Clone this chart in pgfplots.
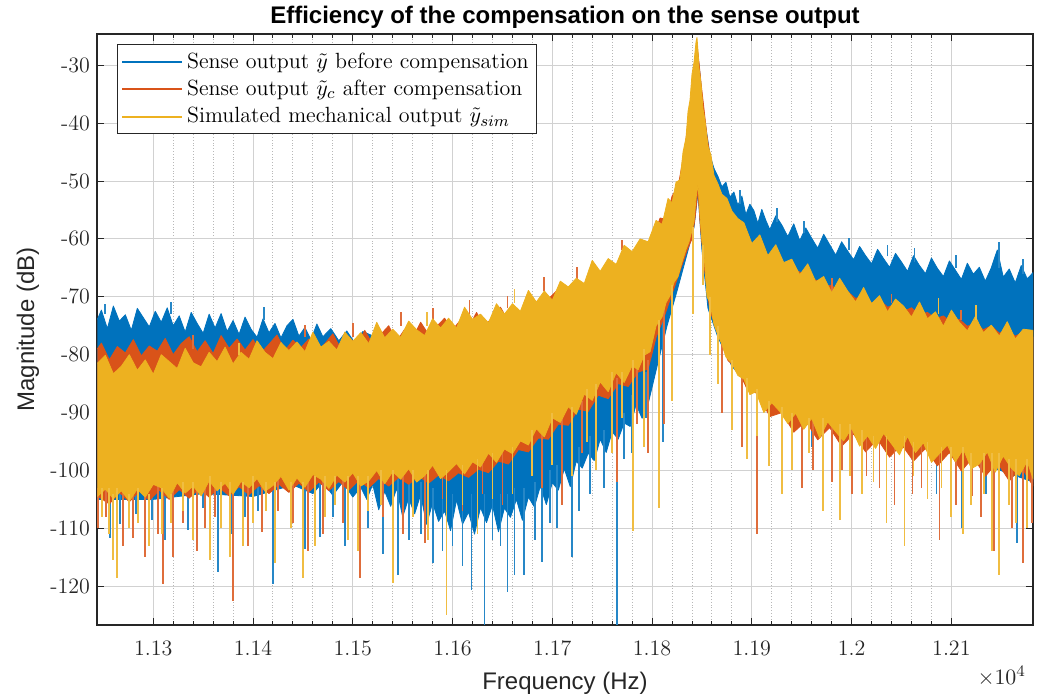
\documentclass[border=0pt]{standalone}
\usepackage{fontspec}
\usepackage{pgfplots}
\pgfplotsset{compat=1.18}
\newfontfamily\arialfont{Liberation Sans}
\definecolor{mblue}{RGB}{0,114,189}
\definecolor{morange}{RGB}{217,83,25}
\definecolor{myellow}{RGB}{237,177,32}
\definecolor{axgray}{RGB}{38,38,38}
\begin{document}
\begin{tikzpicture}
\path[use as bounding box] (-48.5pt,-37.5pt) rectangle (473.5pt,312.5pt);
\begin{axis}[
 scale only axis, width=468pt, height=295.5pt,
 at={(0pt,0pt)}, anchor=south west,
 clip mode=individual,
 xmin=11243.6, xmax=12181.8, ymin=-126.7, ymax=-24.6,
 scaled x ticks=false,
 xtick={11300,11400,11500,11600,11700,11800,11900,12000,12100},
 xticklabels={1.13,1.14,1.15,1.16,1.17,1.18,1.19,1.2,1.21},
 ytick={-120,-110,-100,-90,-80,-70,-60,-50,-40,-30},
 yticklabels={-120,-110,-100,-90,-80,-70,-60,-50,-40,-30},
 minor x tick num=4,
 xmajorgrids, ymajorgrids, xminorgrids,
 major grid style={black!18, line width=0.5pt},
 minor grid style={black!28, densely dotted, line width=0.5pt},
 tick align=inside,
 major tick length=3.5pt, minor tick length=2pt,
 tick style={axgray, line width=0.5pt},
 axis line style={axgray, line width=0.6pt},
 ticklabel style={font=\fontsize{11}{13}\selectfont, text=axgray},
 xticklabel style={yshift=-4.3pt},
 xlabel={Frequency (Hz)}, ylabel={Magnitude (dB)},
 label style={font=\arialfont\fontsize{12}{14}\selectfont, text=axgray},
 xlabel style={at={(axis description cs:0.5,0)}, anchor=center, yshift=-29pt},
 ylabel style={at={(axis description cs:0,0.5)}, anchor=center, yshift=34.5pt},
 legend style={at={(rel axis cs:0.0214,0.983)}, anchor=north west, font=\fontsize{11}{13}\selectfont, draw=axgray, line width=0.5pt, inner xsep=2pt, inner ysep=2pt, row sep=0.5pt, fill=white},
 legend cell align=left,
 legend image code/.code={\draw[#1, line width=0.8pt] (0pt,0pt) -- (30pt,0pt);},
]
\addlegendimage{mblue}
\addlegendentry{Sense output $\tilde{y}$ before compensation}
\addlegendimage{morange}
\addlegendentry{Sense output $\tilde{y}_c$ after compensation}
\addlegendimage{myellow}
\addlegendentry{Simulated mechanical output $\tilde{y}_{sim}$}

% ---------- blue: sense output before compensation ----------
\addplot[forget plot, draw=mblue, fill=mblue, line width=0.4pt, line join=round, mark=none] coordinates {
(11244,-73.9)(11248,-72.3)(11254,-75.5)(11260,-71.6)(11266,-74.2)(11272,-73.1)(11278,-75.8)(11284,-72.0)
(11290,-73.6)(11296,-75.2)(11302,-72.5)(11308,-74.4)(11314,-71.9)(11320,-75.0)(11326,-73.3)(11332,-76.1)
(11338,-72.7)(11344,-74.6)(11350,-76.3)(11356,-73.0)(11362,-75.4)(11368,-72.9)(11374,-76.0)(11380,-74.1)
(11386,-76.5)(11392,-73.5)(11398,-75.6)(11404,-77.0)(11410,-73.8)(11416,-76.2)(11422,-74.6)(11428,-77.1)
(11434,-75.0)(11440,-73.9)(11446,-76.8)(11452,-75.3)(11458,-77.4)(11464,-74.7)(11470,-76.9)(11478,-75.5)
(11486,-77.6)(11494,-75.9)(11502,-78.0)(11510,-76.0)(11530,-77.5)(11560,-77.0)(11600,-76.0)(11650,-74.0)
(11700,-71.0)(11740,-68.0)(11780,-63.5)(11800,-61.0)(11815,-56.5)(11825,-52.5)(11832,-47.0)(11837,-40.5)
(11841,-32.5)(11845,-27.0)(11848,-31.5)(11851,-37.5)(11855,-42.0)(11858,-45.5)(11862,-47.8)(11866,-49.2)
(11870,-51.0)(11874,-50.2)(11878,-52.8)(11882,-51.9)(11886,-54.2)(11890,-52.6)(11894,-55.8)(11898,-54.0)
(11902,-55.1)(11906,-57.3)(11910,-54.9)(11914,-56.8)(11918,-58.4)(11924,-56.0)(11930,-57.6)(11936,-59.6)
(11942,-57.4)(11948,-60.3)(11954,-58.1)(11960,-59.9)(11966,-61.6)(11972,-59.2)(11978,-61.0)(11984,-62.8)
(11990,-60.5)(11996,-62.1)(12002,-63.6)(12008,-61.3)(12014,-62.9)(12020,-64.3)(12026,-61.8)(12032,-63.4)
(12038,-64.9)(12044,-62.5)(12050,-64.0)(12056,-65.6)(12062,-62.9)(12068,-64.6)(12074,-66.0)(12080,-63.3)
(12086,-65.1)(12092,-66.5)(12098,-63.8)(12104,-65.4)(12110,-67.0)(12116,-64.2)(12122,-66.1)(12128,-64.9)
(12134,-67.3)(12140,-65.0)(12146,-61.9)(12152,-66.6)(12158,-65.2)(12164,-67.6)(12170,-64.6)(12176,-66.9)
(12182,-65.8)
(12182,-102.0)(12100,-97.0)(12000,-93.5)(11930,-90.0)(11900,-86.0)(11880,-82.0)(11866,-77.0)(11856,-72.0)
(11850,-62.0)(11846,-52.0)(11842,-58.0)(11836,-62.0)(11825,-69.0)(11815,-75.0)(11805,-82.0)(11796,-88.5)
(11790,-91.0)(11784,-88.6)(11778,-92.4)(11772,-91.8)(11766,-94.6)(11760,-93.3)(11754,-96.9)(11748,-94.6)
(11742,-98.3)(11736,-97.0)(11730,-99.6)(11724,-98.4)(11718,-102.8)(11712,-99.7)(11706,-103.4)(11700,-102.1)
(11694,-105.9)(11688,-102.7)(11682,-106.3)(11676,-104.6)(11670,-108.6)(11664,-105.0)(11658,-108.1)(11652,-106.5)
(11646,-110.6)(11640,-106.0)(11634,-109.0)(11628,-106.4)(11622,-111.0)(11616,-107.2)(11610,-109.3)(11604,-105.1)
(11598,-110.4)(11592,-107.0)(11586,-108.8)(11580,-105.6)(11574,-109.3)(11568,-104.2)(11562,-107.5)(11556,-104.8)
(11550,-108.0)(11544,-103.1)(11538,-106.2)(11532,-103.6)(11526,-106.8)(11520,-102.4)(11514,-105.0)(11508,-102.9)
(11500,-104.6)(11490,-102.0)(11480,-104.3)(11470,-102.0)(11460,-104.0)(11440,-102.5)(11400,-104.5)(11350,-104.0)
(11300,-105.0)(11244,-105.0)
};
\addplot[forget plot, mblue!85, line width=0.9pt, mark=none, unbounded coords=jump] coordinates {
(11257,-102)(11257,-111.6)(11257,nan) (11267,-102)(11267,-109.3)(11267,nan) (11299,-102)(11299,-108.5)(11299,nan)
(11335,-101)(11335,-110.3)(11335,nan) (11365,-101)(11365,-117.6)(11365,nan) (11392,-101)(11392,-108)(11392,nan)
(11420,-101)(11420,-119.6)(11420,nan) (11439,-100)(11439,-109)(11439,nan) (11467,-100)(11467,-111.5)(11467,nan)
(11492,-100)(11492,-113)(11492,nan) (11530,-100)(11530,-114.5)(11530,nan) (11556,-102)(11556,-112)(11556,nan)
(11580,-103)(11580,-116)(11580,nan) (11600,-104)(11600,-113)(11600,nan) (11619,-104)(11619,-120.7)(11619,nan)
(11632,-104)(11632,-127)(11632,nan) (11648,-104)(11648,-113)(11648,nan) (11662,-103)(11662,-118)(11662,nan)
(11672,-103)(11672,-118)(11672,nan) (11690,-101)(11690,-115.8)(11690,nan) (11705,-99)(11705,-110)(11705,nan)
(11720,-96)(11720,-115)(11720,nan) (11738,-94)(11738,-104)(11738,nan) (11765,-89)(11765,-127)(11765,nan)
(11780,-87)(11780,-97)(11780,nan) (11811,-73)(11811,-95)(11811,nan) (11794,-83)(11794,-91)(11794,nan)
(11960,-88)(11960,-96)(11960,nan) (12085,-94)(12085,-104)(12085,nan) (12111,-95)(12111,-110)(12111,nan)
(12135,-96)(12135,-104)(12135,nan) (12166,-97)(12166,-112.6)(12166,nan)
(11283,-101)(11283,-107.5)(11283,nan) (11312,-101)(11312,-112)(11312,nan) (11350,-101)(11350,-106.5)(11350,nan)
(11378,-101)(11378,-111)(11378,nan) (11405,-101)(11405,-107)(11405,nan) (11452,-100)(11452,-113.5)(11452,nan)
(11480,-100)(11480,-108)(11480,nan) (11515,-100)(11515,-110)(11515,nan) (11545,-101)(11545,-118)(11545,nan)
(11568,-102)(11568,-111)(11568,nan) (11590,-103)(11590,-114)(11590,nan) (11610,-104)(11610,-116.5)(11610,nan)
(11640,-104)(11640,-112)(11640,nan) (11655,-104)(11655,-121)(11655,nan) (11683,-102)(11683,-112)(11683,nan)
(11698,-100)(11698,-109)(11698,nan) (11727,-96)(11727,-107)(11727,nan) (11752,-93)(11752,-103)(11752,nan)
(11772,-90)(11772,-98)(11772,nan)
(11252,-73)(11252,-71.2)(11252,nan) (11318,-73)(11318,-70.9)(11318,nan) (11411,-74)(11411,-71.8)(11411,nan)
(11925,-57)(11925,-54.6)(11925,nan) (11997,-62)(11997,-59.8)(11997,nan) (12063,-64)(12063,-61.5)(12063,nan)
(12148,-65)(12148,-60.6)(12148,nan) (11888,-54)(11888,-51.6)(11888,nan) (11952,-59)(11952,-56.9)(11952,nan)
(12036,-63)(12036,-61.0)(12036,nan) (12105,-65)(12105,-62.8)(12105,nan) (12172,-66)(12172,-63.5)(12172,nan)
};

% ---------- orange: sense output after compensation ----------
\addplot[forget plot, draw=morange, fill=morange, line width=0.4pt, line join=round, mark=none] coordinates {
(11244,-79.0)(11248,-78.0)(11256,-80.9)(11264,-78.6)(11272,-79.7)(11280,-77.4)(11288,-80.2)(11296,-78.5)
(11304,-79.4)(11312,-77.2)(11320,-80.0)(11328,-78.1)(11336,-76.9)(11344,-79.5)(11352,-77.6)(11360,-79.8)
(11368,-76.7)(11376,-78.9)(11384,-77.3)(11392,-79.2)(11400,-77.4)(11408,-79.7)(11416,-78.2)(11424,-76.6)
(11432,-79.3)(11440,-77.5)(11448,-78.8)(11456,-77.3)(11464,-79.7)(11472,-78.1)(11480,-76.4)(11488,-79.0)
(11496,-76.9)(11504,-78.5)(11512,-75.8)(11520,-78.2)(11528,-76.5)(11536,-75.0)(11544,-77.7)(11552,-75.6)
(11560,-77.1)(11568,-74.4)(11576,-76.5)(11584,-75.1)(11592,-73.7)(11600,-75.7)(11608,-74.0)(11616,-75.4)
(11624,-72.7)(11632,-75.1)(11640,-73.5)(11648,-71.8)(11656,-74.2)(11664,-72.4)(11672,-73.6)(11680,-70.1)
(11688,-72.3)(11696,-70.4)(11704,-69.0)(11712,-70.9)(11720,-68.5)(11728,-69.7)(11736,-66.9)(11744,-68.4)
(11752,-66.0)(11760,-67.1)(11768,-64.3)(11776,-65.5)(11784,-62.7)(11792,-63.6)(11800,-60.2)(11808,-56.4)
(11814,-56.6)(11820,-52.6)(11826,-51.0)(11830,-47.2)(11833,-44.0)(11836,-40.0)(11839,-35.5)(11841,-31.5)
(11843,-29.0)(11845,-26.3)(11847,-29.5)(11849,-33.0)(11852,-37.5)(11855,-42.2)(11858,-45.6)(11862,-49.3)
(11866,-51.6)(11872,-53.4)(11878,-55.6)(11884,-57.5)(11890,-58.8)(11896,-60.0)(11902,-61.0)(11908,-62.1)
(11916,-62.7)(11924,-63.8)(11932,-64.3)(11940,-65.5)(11948,-65.7)(11956,-66.9)(11964,-67.1)(11972,-68.3)
(11980,-68.0)(11988,-69.4)(11996,-69.1)(12004,-70.3)(12012,-69.8)(12020,-71.1)(12028,-70.5)(12036,-71.8)
(12044,-71.3)(12052,-72.5)(12060,-71.9)(12068,-73.1)(12076,-72.7)(12084,-73.8)(12092,-73.3)(12100,-74.5)
(12108,-73.9)(12116,-75.1)(12124,-74.5)(12132,-75.7)(12140,-75.0)(12148,-76.3)(12156,-75.7)(12164,-76.8)
(12172,-76.1)(12182,-77.0)
(12182,-102.7)(12170,-99.4)(12158,-101.8)(12146,-98.6)(12134,-101.0)(12122,-97.7)(12110,-100.1)(12098,-96.9)
(12086,-99.2)(12074,-96.2)(12062,-98.4)(12050,-95.5)(12038,-97.7)(12026,-94.6)(12014,-96.8)(12002,-93.7)
(11990,-95.8)(11978,-92.6)(11966,-94.7)(11954,-91.5)(11942,-93.4)(11930,-90.0)(11918,-90.7)(11906,-86.7)
(11896,-86.2)(11886,-82.6)(11876,-81.0)(11866,-76.0)(11858,-72.5)(11852,-64.5)(11848,-57.0)(11846,-51.5)
(11843,-56.5)(11840,-60.0)(11835,-62.0)(11828,-65.5)(11820,-69.5)(11812,-73.5)(11804,-77.0)(11796,-82.5)
(11786,-83.0)(11776,-85.5)(11766,-85.0)(11756,-87.6)(11746,-87.0)(11736,-89.8)(11726,-89.4)(11716,-92.2)
(11706,-92.0)(11696,-94.6)(11686,-94.4)(11676,-96.8)(11666,-96.4)(11656,-98.9)(11646,-98.4)(11636,-100.4)
(11626,-99.8)(11616,-101.2)(11606,-100.4)(11596,-101.8)(11586,-100.8)(11576,-102.2)(11566,-101.0)(11556,-102.4)
(11546,-101.2)(11536,-102.7)(11526,-101.4)(11516,-103.0)(11506,-101.7)(11496,-103.4)(11486,-101.9)(11476,-103.5)
(11466,-102.0)(11456,-103.7)(11446,-102.2)(11436,-103.8)(11426,-102.4)(11416,-104.0)(11406,-102.6)(11396,-104.2)
(11386,-102.8)(11376,-104.4)(11366,-102.9)(11356,-104.6)(11346,-103.1)(11336,-104.8)(11326,-103.3)(11316,-105.0)
(11306,-103.4)(11296,-105.2)(11286,-103.6)(11276,-105.4)(11266,-103.8)(11256,-105.8)(11244,-104.4)
};
\addplot[forget plot, morange!85, line width=0.9pt, mark=none, unbounded coords=jump] coordinates {
(11245,-103)(11245,-110)(11245,nan) (11280,-103)(11280,-111.6)(11280,nan) (11292,-103)(11292,-115)(11292,nan)
(11305,-102)(11305,-111)(11305,nan) (11310,-102)(11310,-119.6)(11310,nan) (11330,-102)(11330,-109)(11330,nan)
(11344,-102)(11344,-114)(11344,nan) (11362,-102)(11362,-108)(11362,nan) (11380,-101)(11380,-122.5)(11380,nan)
(11409,-101)(11409,-110.6)(11409,nan) (11440,-101)(11440,-109)(11440,nan) (11470,-100)(11470,-111)(11470,nan)
(11507,-100)(11507,-118.5)(11507,nan) (11530,-100)(11530,-108)(11530,nan) (11572,-100)(11572,-112.5)(11572,nan)
(11610,-99)(11610,-107)(11610,nan) (11650,-97)(11650,-106)(11650,nan) (11690,-93)(11690,-103)(11690,nan)
(11710,-91)(11710,-106)(11710,nan) (11765,-84)(11765,-102)(11765,nan) (11796,-81)(11796,-97)(11796,nan)
(11812,-71)(11812,-92)(11812,nan) (11905,-85)(11905,-111)(11905,nan) (11930,-89)(11930,-99)(11930,nan)
(11961,-91)(11961,-100)(11961,nan) (11980,-92)(11980,-102)(11980,nan) (12000,-92)(12000,-104)(12000,nan)
(12028,-93)(12028,-103)(12028,nan) (12043,-94)(12043,-106)(12043,nan) (12061,-94)(12061,-104)(12061,nan)
(12088,-95)(12088,-112)(12088,nan) (12105,-96)(12105,-106)(12105,nan) (12121,-96)(12121,-104.5)(12121,nan)
(12143,-98)(12143,-114)(12143,nan) (12161,-98)(12161,-110)(12161,nan) (12181,-100)(12181,-109)(12181,nan)
(11253,-103)(11253,-108)(11253,nan) (11270,-103)(11270,-113)(11270,nan) (11320,-102)(11320,-115)(11320,nan)
(11352,-102)(11352,-110)(11352,nan) (11395,-101)(11395,-113)(11395,nan) (11425,-101)(11425,-107)(11425,nan)
(11455,-100)(11455,-114)(11455,nan) (11490,-100)(11490,-109)(11490,nan) (11550,-100)(11550,-111)(11550,nan)
(11590,-99)(11590,-105)(11590,nan) (11630,-98)(11630,-104)(11630,nan) (11680,-94)(11680,-100)(11680,nan)
(11730,-88)(11730,-97)(11730,nan) (11785,-82)(11785,-92)(11785,nan) (11870,-77)(11870,-90)(11870,nan)
(11890,-82)(11890,-96)(11890,nan) (11950,-90)(11950,-103)(11950,nan) (11990,-92)(11990,-100)(11990,nan)
(12015,-93)(12015,-101)(12015,nan) (12070,-95)(12070,-103)(12070,nan) (12130,-97)(12130,-108)(12130,nan)
(12172,-99)(12172,-116)(12172,nan)
(11340,-79)(11340,-76.6)(11340,nan) (11452,-77)(11452,-74.8)(11452,nan) (11548,-75)(11548,-72.6)(11548,nan)
(11617,-73)(11617,-70.6)(11617,nan) (11692,-69)(11692,-66.6)(11692,nan) (11500,-77)(11500,-74.6)(11500,nan)
(11580,-74)(11580,-71.9)(11580,nan) (11655,-72)(11655,-69.8)(11655,nan) (11725,-67)(11725,-64.8)(11725,nan)
(11770,-62)(11770,-60.2)(11770,nan) (11980,-69)(11980,-66.8)(11980,nan) (12040,-71)(12040,-69.5)(12040,nan)
(12110,-74)(12110,-72.2)(12110,nan)
};

% ---------- yellow: simulated mechanical output ----------
\addplot[forget plot, draw=myellow, fill=myellow, line width=0.4pt, line join=round, mark=none] coordinates {
(11244,-81.5)(11252,-80.1)(11260,-83.3)(11268,-82.0)(11276,-80.0)(11284,-82.7)(11292,-80.9)(11300,-83.4)
(11308,-80.0)(11316,-81.2)(11324,-82.4)(11332,-78.9)(11340,-81.4)(11348,-82.1)(11356,-79.6)(11364,-81.2)
(11372,-78.7)(11380,-81.6)(11388,-79.6)(11396,-80.8)(11404,-77.6)(11412,-79.6)(11420,-80.7)(11428,-77.9)
(11436,-79.3)(11444,-77.8)(11452,-79.5)(11460,-76.1)(11468,-78.7)(11476,-77.7)(11484,-79.2)(11492,-76.1)
(11500,-77.7)(11508,-76.2)(11516,-78.1)(11524,-74.4)(11532,-77.1)(11540,-75.6)(11548,-77.0)(11556,-74.2)
(11564,-75.7)(11572,-76.7)(11580,-73.8)(11588,-75.4)(11596,-73.7)(11604,-75.4)(11612,-71.8)(11620,-73.9)
(11628,-73.0)(11636,-74.5)(11644,-71.2)(11652,-73.0)(11660,-71.2)(11668,-72.5)(11676,-68.9)(11684,-70.9)
(11692,-69.0)(11700,-70.6)(11708,-67.3)(11716,-68.3)(11724,-66.8)(11732,-67.7)(11740,-63.7)(11748,-65.6)
(11756,-63.4)(11764,-64.4)(11772,-61.1)(11780,-62.2)(11788,-60.0)(11796,-60.5)(11804,-56.8)(11810,-57.5)
(11816,-53.0)(11820,-53.8)(11824,-50.2)(11828,-49.8)(11831,-45.0)(11834,-42.5)(11836,-38.0)(11838,-36.0)
(11840,-31.5)(11842,-29.5)(11844,-26.0)(11845,-25.2)(11846,-27.5)(11847,-30.5)(11849,-33.0)(11851,-37.5)
(11853,-39.5)(11856,-44.0)(11859,-45.5)(11862,-49.0)(11866,-50.5)(11870,-52.3)(11875,-53.0)(11880,-55.2)
(11886,-56.5)(11892,-57.2)(11900,-60.8)(11908,-59.3)(11916,-62.9)(11924,-61.0)(11932,-64.1)(11940,-63.5)
(11948,-66.2)(11956,-64.3)(11964,-67.4)(11972,-66.5)(11980,-69.3)(11988,-66.8)(11996,-69.0)(12004,-70.9)
(12012,-68.4)(12020,-71.2)(12028,-69.8)(12036,-72.6)(12044,-70.4)(12052,-71.6)(12060,-73.5)(12068,-70.9)
(12076,-73.8)(12084,-72.6)(12092,-75.1)(12100,-72.3)(12108,-74.4)(12116,-75.9)(12124,-73.4)(12132,-76.2)
(12140,-74.9)(12148,-76.8)(12156,-74.3)(12164,-77.3)(12172,-75.6)(12182,-75.8)
(12182,-101.5)(12176,-98.4)(12168,-100.9)(12160,-99.6)(12152,-97.5)(12144,-100.3)(12136,-96.8)(12128,-98.9)
(12120,-99.7)(12112,-96.3)(12104,-98.5)(12096,-95.6)(12088,-97.1)(12080,-98.6)(12072,-95.2)(12064,-96.9)
(12056,-94.1)(12048,-97.3)(12040,-95.4)(12032,-93.6)(12024,-96.2)(12016,-94.0)(12008,-95.8)(12000,-92.7)
(11992,-94.9)(11984,-93.3)(11976,-91.6)(11968,-94.4)(11960,-91.0)(11952,-92.9)(11944,-90.1)(11936,-91.9)
(11928,-89.8)(11920,-88.3)(11912,-90.0)(11904,-86.4)(11898,-86.9)(11892,-84.2)(11886,-83.6)(11880,-81.5)
(11874,-80.4)(11870,-78.2)(11866,-76.6)(11862,-74.8)(11858,-71.0)(11855,-70.0)(11852,-62.5)(11850,-60.5)
(11848,-56.0)(11846,-50.5)(11844,-53.0)(11842,-57.0)(11840,-58.5)(11837,-60.5)(11834,-61.8)(11830,-64.0)
(11826,-66.5)(11822,-67.5)(11818,-69.8)(11814,-71.0)(11810,-73.5)(11804,-75.0)(11798,-79.5)(11792,-80.1)
(11786,-82.6)(11780,-81.9)(11772,-84.8)(11764,-83.1)(11756,-86.4)(11748,-84.7)(11740,-87.9)(11732,-86.8)
(11724,-90.3)(11716,-89.0)(11708,-91.7)(11700,-90.9)(11692,-94.2)(11684,-92.8)(11676,-95.6)(11668,-94.9)
(11660,-97.1)(11652,-96.3)(11644,-98.6)(11636,-97.0)(11628,-99.4)(11620,-98.5)(11612,-100.6)(11604,-98.8)
(11596,-100.2)(11588,-101.4)(11580,-99.1)(11572,-100.9)(11564,-102.0)(11556,-99.7)(11548,-101.5)(11540,-100.2)
(11532,-102.3)(11524,-100.0)(11516,-101.8)(11508,-102.7)(11500,-100.4)(11492,-102.0)(11484,-100.8)(11476,-103.1)
(11468,-101.5)(11460,-100.7)(11452,-102.9)(11444,-101.3)(11436,-103.4)(11428,-101.0)(11420,-102.6)(11412,-103.6)
(11404,-101.4)(11396,-103.0)(11388,-101.9)(11380,-104.1)(11372,-102.2)(11364,-103.5)(11356,-101.8)(11348,-104.4)
(11340,-102.7)(11332,-103.9)(11324,-102.1)(11316,-104.8)(11308,-103.0)(11300,-102.4)(11292,-104.6)(11284,-103.2)
(11276,-105.3)(11268,-103.5)(11260,-104.9)(11252,-103.2)(11244,-104.5)
};
\addplot[forget plot, myellow!85, line width=0.9pt, mark=none, unbounded coords=jump] coordinates {
(11256,-103)(11256,-111)(11256,nan) (11260,-104)(11260,-115.5)(11260,nan) (11264,-103)(11264,-118.5)(11264,nan)
(11276,-104)(11276,-110)(11276,nan) (11296,-104)(11296,-113)(11296,nan) (11318,-104)(11318,-109)(11318,nan)
(11340,-102)(11340,-112)(11340,nan) (11357,-101)(11357,-115.4)(11357,nan) (11377,-102)(11377,-115)(11377,nan)
(11400,-101)(11400,-109)(11400,nan) (11422,-102)(11422,-116)(11422,nan) (11450,-102)(11450,-118.6)(11450,nan)
(11472,-101)(11472,-108)(11472,nan) (11495,-101)(11495,-112)(11495,nan) (11515,-101)(11515,-107)(11515,nan)
(11540,-100)(11540,-119.5)(11540,nan) (11560,-100)(11560,-108)(11560,nan) (11594,-100)(11594,-125)(11594,nan)
(11610,-99)(11610,-106)(11610,nan) (11640,-97)(11640,-105)(11640,nan) (11660,-96)(11660,-104)(11660,nan)
(11700,-90)(11700,-99)(11700,nan) (11720,-89)(11720,-101)(11720,nan) (11744,-85)(11744,-100)(11744,nan)
(11760,-83)(11760,-97)(11760,nan) (11781,-81)(11781,-110.5)(11781,nan) (11792,-79)(11792,-96)(11792,nan)
(11807,-74)(11807,-106.5)(11807,nan) (11820,-68)(11820,-88)(11820,nan) (11841,-58)(11841,-73)(11841,nan)
(11851,-61)(11851,-68)(11851,nan) (11866,-75)(11866,-85)(11866,nan) (11880,-81)(11880,-93)(11880,nan)
(11895,-84)(11895,-98)(11895,nan) (11917,-88)(11917,-99.2)(11917,nan) (11940,-90)(11940,-100)(11940,nan)
(11971,-91)(11971,-107)(11971,nan) (11988,-92)(11988,-108.5)(11988,nan) (12010,-93)(12010,-104)(12010,nan)
(12035,-94)(12035,-109)(12035,nan) (12053,-94)(12053,-113)(12053,nan) (12076,-95)(12076,-105)(12076,nan)
(12100,-96)(12100,-108)(12100,nan) (12120,-97)(12120,-106)(12120,nan) (12141,-97)(12141,-114)(12141,nan)
(12148,-97)(12148,-118)(12148,nan) (12165,-98)(12165,-109)(12165,nan) (12176,-98)(12176,-110)(12176,nan)
(11249,-103)(11249,-108)(11249,nan) (11285,-103)(11285,-109)(11285,nan) (11309,-103)(11309,-111)(11309,nan)
(11330,-102)(11330,-107)(11330,nan) (11368,-102)(11368,-110)(11368,nan) (11390,-102)(11390,-113)(11390,nan)
(11413,-102)(11413,-107)(11413,nan) (11438,-102)(11438,-110)(11438,nan) (11462,-101)(11462,-113)(11462,nan)
(11482,-101)(11482,-106)(11482,nan) (11505,-101)(11505,-114)(11505,nan) (11528,-100)(11528,-106)(11528,nan)
(11575,-100)(11575,-112)(11575,nan) (11625,-98)(11625,-111)(11625,nan) (11680,-93)(11680,-101)(11680,nan)
(11735,-86)(11735,-95)(11735,nan) (11770,-83)(11770,-91)(11770,nan) (11858,-70)(11858,-80)(11858,nan)
(11905,-86)(11905,-94)(11905,nan) (11930,-89)(11930,-104)(11930,nan) (11957,-91)(11957,-97)(11957,nan)
(11998,-92)(11998,-101)(11998,nan) (12022,-94)(12022,-102)(12022,nan) (12062,-95)(12062,-101)(12062,nan)
(12090,-96)(12090,-103)(12090,nan) (12112,-96)(12112,-111)(12112,nan) (12133,-97)(12133,-104)(12133,nan)
(12158,-98)(12158,-106)(12158,nan)
(11386,-80)(11386,-77.9)(11386,nan) (11574,-75)(11574,-72.6)(11574,nan) (11662,-71)(11662,-68.7)(11662,nan)
(12087,-73)(12087,-70.2)(12087,nan) (12125,-74)(12125,-71.5)(12125,nan)
};
\node[anchor=east, font=\fontsize{11}{13}\selectfont, text=axgray] at (rel axis cs:1,0) [yshift=-25.5pt] {$\times 10^{4}$};
\node[anchor=center, font=\arialfont\bfseries\fontsize{12}{14}\selectfont, text=black] at (rel axis cs:0.5,1) [yshift=8.5pt] {Efficiency of the compensation on the sense output};
\end{axis}
\end{tikzpicture}
\end{document}
